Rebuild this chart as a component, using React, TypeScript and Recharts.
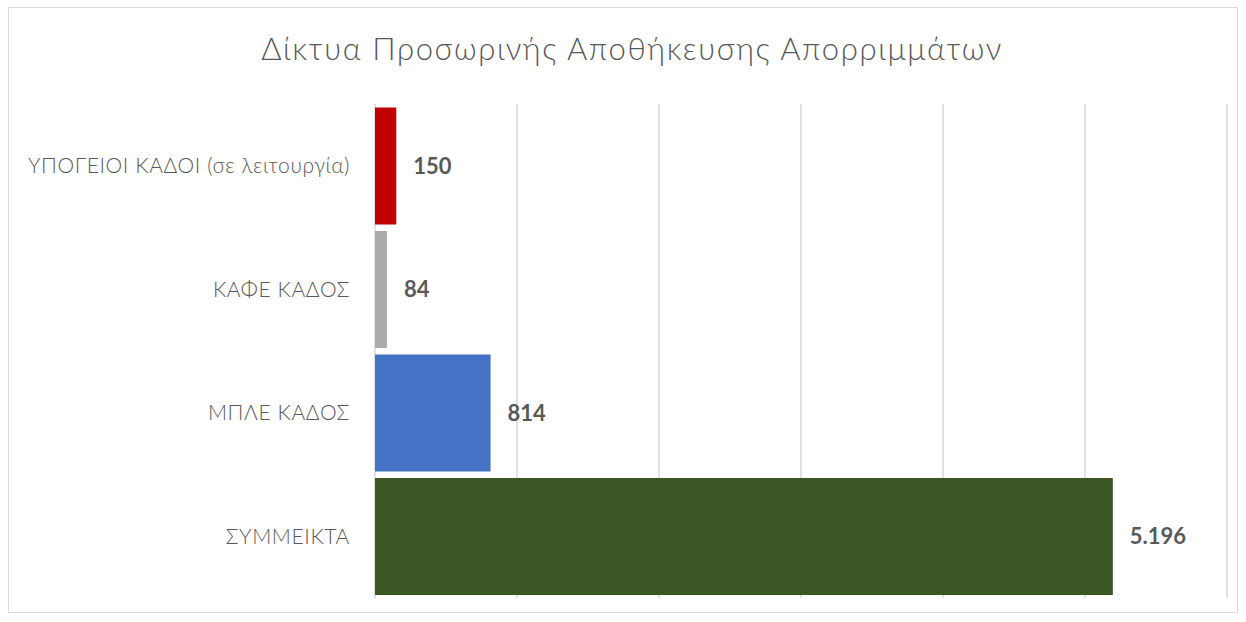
import { BarChart, Bar, XAxis, YAxis, CartesianGrid, Cell, LabelList } from 'recharts';

const categories = ['ΥΠΟΓΕΙΟΙ ΚΑΔΟΙ (σε λειτουργία)', 'ΚΑΦΕ ΚΑΔΟΣ', 'ΜΠΛΕ ΚΑΔΟΣ', 'ΣΥΜΜΕΙΚΤΑ'];
const values = [150, 84, 814, 5196];
const barColors = ['#C00000', '#AEAAAA', '#4472C4', '#3A5723'];
const xTicks = [0, 1000, 2000, 3000, 4000, 5000, 6000];

const chartData = categories.map((name, i) => ({ name, value: values[i] }));

const fontFamily = 'Lato, "Noto Sans", sans-serif';

// greek style thousands separator: 5196 -> 5.196
const formatValue = (v: any) => Number(v).toLocaleString('de-DE');

export default function App() {
    return (
        <div style={{ position: 'absolute', left: 0, top: 0, width: 1246, height: 622, background: '#fff', fontFamily }}>
            <div
                style={{
                    position: 'absolute',
                    left: 8,
                    top: 7,
                    width: 1228,
                    height: 604,
                    border: '1.5px solid #d9d9d9',
                }}
            />
            <div
                style={{
                    position: 'absolute',
                    left: 0,
                    top: 29,
                    width: 1264,
                    textAlign: 'center',
                    fontSize: 31,
                    fontWeight: 300,
                    letterSpacing: 1.6,
                    color: '#595959',
                }}
            >
                Δίκτυα Προσωρινής Αποθήκευσης Απορριμμάτων
            </div>
            <div style={{ position: 'absolute', left: 0, top: 0 }}>
                <BarChart
                    width={1246}
                    height={622}
                    data={chartData}
                    layout="vertical"
                    margin={{ top: 104, right: 19, bottom: 24, left: 10 }}
                    barCategoryGap={3.5}
                >
                    <CartesianGrid horizontal={false} stroke="#d9d9d9" strokeWidth={1.5} />
                    <XAxis type="number" domain={[0, 6000]} ticks={xTicks} hide />
                    <YAxis
                        type="category"
                        dataKey="name"
                        width={365}
                        axisLine={false}
                        tickLine={false}
                        tickSize={6}
                        tickMargin={19}
                        tick={{ fill: '#595959', fontSize: 21, fontWeight: 300, letterSpacing: 0.6, fontFamily }}
                    />
                    <Bar dataKey="value" isAnimationActive={false}>
                        {chartData.map((entry, index) => (
                            <Cell key={`cell-${index}`} fill={barColors[index]} />
                        ))}
                        <LabelList
                            dataKey="value"
                            position="right"
                            offset={17}
                            formatter={formatValue}
                            style={{ fill: '#595959', fontSize: 22, fontWeight: 700, fontFamily }}
                        />
                    </Bar>
                </BarChart>
            </div>
        </div>
    );
}
